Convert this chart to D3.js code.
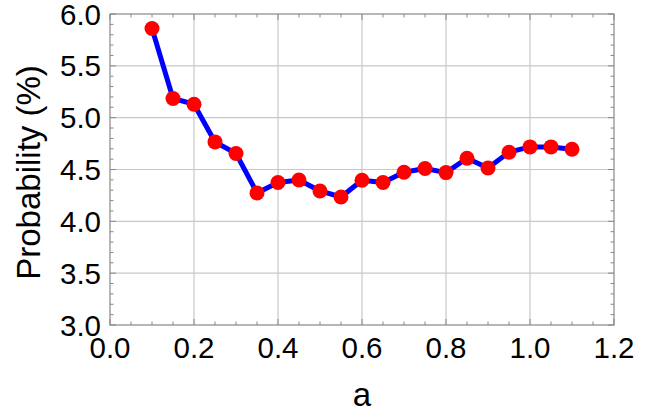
<!DOCTYPE html>
<html><head><meta charset="utf-8">
<script src="https://cdn.jsdelivr.net/npm/d3@7"></script>
<style>body{margin:0;background:#fff}svg{display:block}</style>
</head><body>
<svg id="c" width="660" height="418"></svg>
<script>
const aValues = [0.10,0.15,0.20,0.25,0.30,0.35,0.40,0.45,0.50,0.55,0.60,0.65,0.70,0.75,0.80,0.85,0.90,0.95,1.00,1.05,1.10];
const probValues = [5.86,5.185,5.13,4.766,4.654,4.274,4.374,4.399,4.293,4.235,4.396,4.374,4.473,4.509,4.470,4.609,4.515,4.667,4.718,4.718,4.696];
const xTicks = [0,0.2,0.4,0.6,0.8,1.0,1.2];
const yTicks = [3.0,3.5,4.0,4.5,5.0,5.5,6.0];
const xLabel = "a", yLabel = "Probability (%)";

const svg = d3.select("#c");
const L=110,R=614,T=14,B=325;
const x = d3.scaleLinear().domain([0,1.2]).range([L,R]);
const y = d3.scaleLinear().domain([3,6]).range([B,T]);
const font = "Liberation Sans, Arial, sans-serif";

// grid
svg.append("g").selectAll("line").data(xTicks.slice(1,-1)).join("line")
  .attr("x1",d=>x(d)).attr("x2",d=>x(d)).attr("y1",T).attr("y2",B)
  .attr("stroke","#c8c8c8").attr("stroke-width",1.2);
svg.append("g").selectAll("line").data(yTicks.slice(1,-1)).join("line")
  .attr("y1",d=>y(d)).attr("y2",d=>y(d)).attr("x1",L).attr("x2",R)
  .attr("stroke","#c8c8c8").attr("stroke-width",1.2);

// ticks
const xMinor = d3.range(0,1.2001,0.05);
const yMinor = d3.range(3,6.0001,0.1);
const tk = svg.append("g").attr("stroke","#888").attr("stroke-width",1);
xMinor.forEach(v=>{
  const major = Math.abs(v*5-Math.round(v*5))<1e-6;
  const len = major?6:3.5;
  tk.append("line").attr("x1",x(v)).attr("x2",x(v)).attr("y1",B).attr("y2",B-len);
  tk.append("line").attr("x1",x(v)).attr("x2",x(v)).attr("y1",T).attr("y2",T+len);
});
yMinor.forEach(v=>{
  const major = Math.abs(v*2-Math.round(v*2))<1e-6;
  const len = major?6:3.5;
  tk.append("line").attr("y1",y(v)).attr("y2",y(v)).attr("x1",L).attr("x2",L+len);
  tk.append("line").attr("y1",y(v)).attr("y2",y(v)).attr("x1",R).attr("x2",R-len);
});

// frame
svg.append("rect").attr("x",L).attr("y",T).attr("width",R-L).attr("height",B-T)
  .attr("fill","none").attr("stroke","#888").attr("stroke-width",1.2);

// tick labels
svg.append("g").selectAll("text").data(xTicks).join("text")
  .attr("x",d=>x(d)).attr("y",358).attr("text-anchor","middle")
  .attr("font-family",font).attr("font-size",29.5).attr("fill","#000")
  .text(d=>d.toFixed(1));
svg.append("g").selectAll("text").data(yTicks).join("text")
  .attr("x",101).attr("y",d=>y(d)).attr("dy","0.36em").attr("text-anchor","end")
  .attr("font-family",font).attr("font-size",29.5).attr("fill","#000")
  .text(d=>d.toFixed(1));

// axis titles
svg.append("text").attr("x",(L+R)/2).attr("y",406).attr("text-anchor","middle")
  .attr("font-family",font).attr("font-size",33).text(xLabel);
svg.append("text").attr("transform",`translate(39.5,${172.5}) rotate(-90)`)
  .attr("text-anchor","middle").attr("font-family",font).attr("font-size",33).text(yLabel);

// data
const data = aValues.map((a,i)=>({a,p:probValues[i]}));
svg.append("path").datum(data)
  .attr("d",d3.line().x(d=>x(d.a)).y(d=>y(d.p)))
  .attr("fill","none").attr("stroke","#0000ff").attr("stroke-width",5).attr("stroke-linejoin","round");
svg.append("g").selectAll("circle").data(data).join("circle")
  .attr("cx",d=>x(d.a)).attr("cy",d=>y(d.p)).attr("r",7.5).attr("fill","#ff0000");
</script>
</body></html>
